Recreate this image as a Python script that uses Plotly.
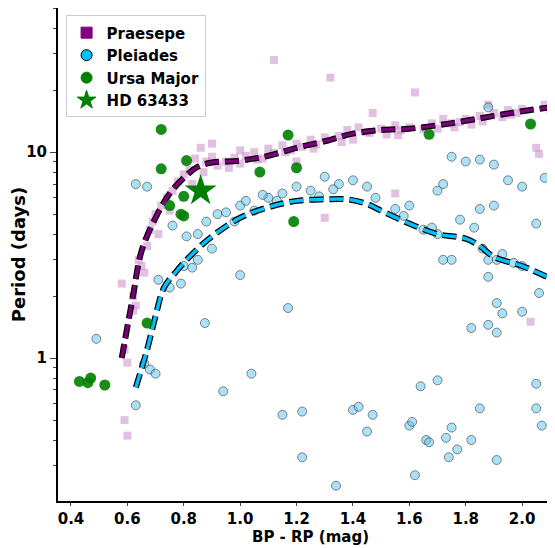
import plotly.graph_objects as go

prae_x = [0.58,0.59,0.60,0.59,0.60,0.62,0.63,0.64,0.65,0.66,0.67,0.68,0.69,0.70,0.71,0.72,0.74,0.76,0.78,0.80,0.82,0.84,0.86,0.87,0.88,0.90,0.92,0.95,0.98,1.00,1.02,1.05,1.08,1.10,1.12,1.15,1.18,1.20,1.22,1.25,1.27,1.30,1.32,1.35,1.38,1.40,1.42,1.45,1.47,1.50,1.52,1.55,1.57,1.60,1.62,1.65,1.68,1.70,1.72,1.75,1.78,1.80,1.82,1.85,1.88,1.90,1.93,1.95,1.98,2.00,2.03,2.05,2.08,2.10,1.12,1.55,1.30,2.06,1.20,1.00,0.90,0.62,0.75,0.83,0.96,1.06,1.16,1.26,1.36,1.46,1.56,1.66,1.76,1.86,1.96]
prae_y = [2.3,0.5,0.42,1.1,0.95,1.7,1.8,3.0,2.8,2.6,3.5,4.2,4.6,5.0,4.0,5.5,6.0,6.5,7.2,7.8,8.2,9.3,10.5,8.0,9.0,9.5,8.6,9.0,9.4,8.8,9.6,10.0,9.3,10.4,9.9,10.8,10.2,11.0,10.6,11.5,10.9,11.8,23,12.0,12.8,11.5,13.2,12.5,15.5,13.0,12.2,13.5,12.8,13.2,19.5,12.9,13.8,13.0,14.5,13.8,14.0,14.5,13.6,15.0,17.0,15.5,14.8,16.0,15.5,16.2,1.5,10.5,17.0,16.0,28,6.3,4.8,9.8,9.0,10.2,11.0,2.0,5.2,7.0,8.4,9.2,10.0,10.4,11.2,12.4,12.1,13.1,13.2,14.1,15.2]

plei_x = [0.49,0.875,1.0,1.17,1.04,0.94,0.63,0.66,0.68,0.70,1.15,1.22,1.40,1.42,1.47,1.45,1.22,1.34,1.60,1.61,1.64,1.66,1.67,1.62,1.70,1.73,1.75,1.74,1.77,1.82,1.85,1.91,1.88,1.82,1.91,1.93,2.00,1.91,2.06,2.05,2.05,2.07,1.88,1.72,1.75,1.88,1.91,2.00,0.71,0.75,0.79,0.80,0.83,0.85,0.90,0.63,0.67,0.76,0.85,0.92,1.00,1.05,1.10,1.13,1.20,1.25,1.30,1.35,1.40,1.45,1.55,1.60,1.70,1.72,1.75,1.80,1.85,1.90,1.95,2.00,2.08,1.90,1.85,1.86,1.83,2.05,1.78,1.70,1.65,1.88,0.88,0.95,1.02,1.08,1.15,1.28,1.33,1.48,1.58,1.68,1.93,1.97,0.81,0.98]
plei_y = [1.24,1.48,2.53,1.75,0.84,0.69,0.59,0.94,0.88,0.84,0.53,0.55,0.56,0.58,0.53,0.44,0.33,0.24,0.47,0.49,0.73,0.40,0.39,0.27,0.78,0.41,0.46,0.33,0.36,0.40,0.57,0.32,1.45,1.40,1.33,1.65,1.68,1.85,2.07,0.75,0.57,0.47,2.48,3.0,3.0,3.0,3.0,2.8,2.4,2.2,2.3,2.8,2.75,3.0,3.4,7.0,6.8,4.4,4.0,5.0,5.5,5.2,6.0,5.8,6.8,6.5,7.6,7.0,7.3,6.8,5.3,5.5,6.5,7.0,9.5,9.0,9.2,8.7,7.3,6.8,7.5,5.5,5.3,3.4,4.3,4.5,4.7,4.0,4.2,16.5,4.6,5.1,5.8,6.2,6.3,6.1,6.6,6.0,4.9,4.3,3.2,2.9,3.9,4.6]

uma_x = [0.43,0.46,0.47,0.52,0.67,0.72,0.72,0.75,0.79,0.80,0.81,0.80,1.07,1.17,1.20,1.19,1.67,2.03]
uma_y = [0.77,0.76,0.80,0.74,1.48,12.9,8.3,5.5,5.0,6.1,9.1,4.9,8.0,12.1,8.4,4.6,12.2,13.7]

hd_x = [0.86]
hd_y = [6.5]

prae_cx = [0.58,0.62,0.65,0.70,0.75,0.80,0.85,0.90,1.0,1.1,1.2,1.3,1.4,1.5,1.6,1.7,1.8,1.9,2.0,2.14]
prae_cy = [1.0,2.0,3.3,4.8,6.3,7.5,8.5,8.9,9.1,9.6,10.5,11.3,12.3,12.8,13.0,13.5,14.2,15.0,15.8,16.8]
plei_cx = [0.63,0.67,0.70,0.73,0.77,0.80,0.85,0.90,1.0,1.1,1.2,1.3,1.38,1.45,1.5,1.6,1.7,1.8,1.85,1.9,2.0,2.14]
plei_cy = [0.72,1.1,1.6,2.2,2.6,2.9,3.4,3.9,4.8,5.4,5.8,5.9,5.9,5.6,5.2,4.5,4.0,3.8,3.5,3.1,2.8,2.3]

xt = [0.4,0.6,0.8,1.0,1.2,1.4,1.6,1.8,2.0]

fig = go.Figure()
fig.add_trace(go.Scatter(x=prae_x, y=prae_y, mode="markers", name="Praesepe", showlegend=False,
    marker=dict(symbol="square", size=8, color="rgba(200,140,200,0.55)")))
fig.add_trace(go.Scatter(x=plei_x, y=plei_y, mode="markers", name="Pleiades", showlegend=False,
    marker=dict(symbol="circle", size=9, color="rgba(100,200,240,0.55)", line=dict(color="rgba(60,60,60,0.6)", width=1))))
for cx, cy, col in [(prae_cx, prae_cy, "#7a007a"), (plei_cx, plei_cy, "#00bfff")]:
    fig.add_trace(go.Scatter(x=cx, y=cy, mode="lines", showlegend=False, line_shape="spline",
        line=dict(color="black", width=6, dash="14px,6px")))
    fig.add_trace(go.Scatter(x=cx, y=cy, mode="lines", showlegend=False, line_shape="spline",
        line=dict(color=col, width=3.5, dash="14px,6px")))
fig.add_trace(go.Scatter(x=uma_x, y=uma_y, mode="markers", name="Ursa Major", showlegend=False,
    marker=dict(symbol="circle", size=11, color="green", opacity=0.9)))
fig.add_trace(go.Scatter(x=hd_x, y=hd_y, mode="markers", name="HD 63433", showlegend=False,
    marker=dict(symbol="star", size=24, color="green")))
for nm, sym, col, ln, sz in [("Praesepe","square","purple",None,11),("Pleiades","circle","#00bfff","black",11),
                         ("Ursa Major","circle","green",None,11),("HD 63433","star","green",None,14)]:
    fig.add_trace(go.Scatter(x=[None], y=[None], mode="markers", name="<b>%s</b>" % nm,
        marker=dict(symbol=sym, size=sz, color=col, line=dict(color=ln or col, width=1))))

fig.update_layout(
    width=555, height=548, margin=dict(l=50, r=0, t=0, b=55),
    plot_bgcolor="white", paper_bgcolor="white",
    font=dict(family="DejaVu Sans", size=15, color="black"),
    legend=dict(x=0.015, y=0.985, xanchor="left", yanchor="top", bordercolor="#cccccc", borderwidth=1,
                font=dict(size=15, family="DejaVu Sans"), bgcolor="white", itemwidth=30, tracegroupgap=0),
    xaxis=dict(range=[0.354, 2.145], tickvals=xt, ticktext=["<b>%.1f</b>" % v for v in xt], automargin=False,
               tickfont=dict(size=15), title=dict(text="<b>BP - RP (mag)</b>", standoff=0, font=dict(size=15)),
               showline=True, linecolor="black", linewidth=2,
               mirror=True, ticks="outside", ticklen=3, showgrid=False, zeroline=False),
    yaxis=dict(type="log", range=[-0.694, 1.70], tickvals=[1, 10], ticktext=["<b>1</b>", "<b>10</b>"], automargin=False,
               title=dict(text="<b>Period (days)</b>", standoff=6), showline=True, linecolor="black", linewidth=2,
               mirror=True, ticks="outside", ticklen=6, showgrid=False,
               minor=dict(tickvals=[0.2,0.3,0.4,0.5,0.6,0.7,0.8,0.9,2,3,4,5,6,7,8,9,20,30,40,50], ticks="outside",
                          ticklen=3, showgrid=False)),
)
fig.write_html("out.html")
